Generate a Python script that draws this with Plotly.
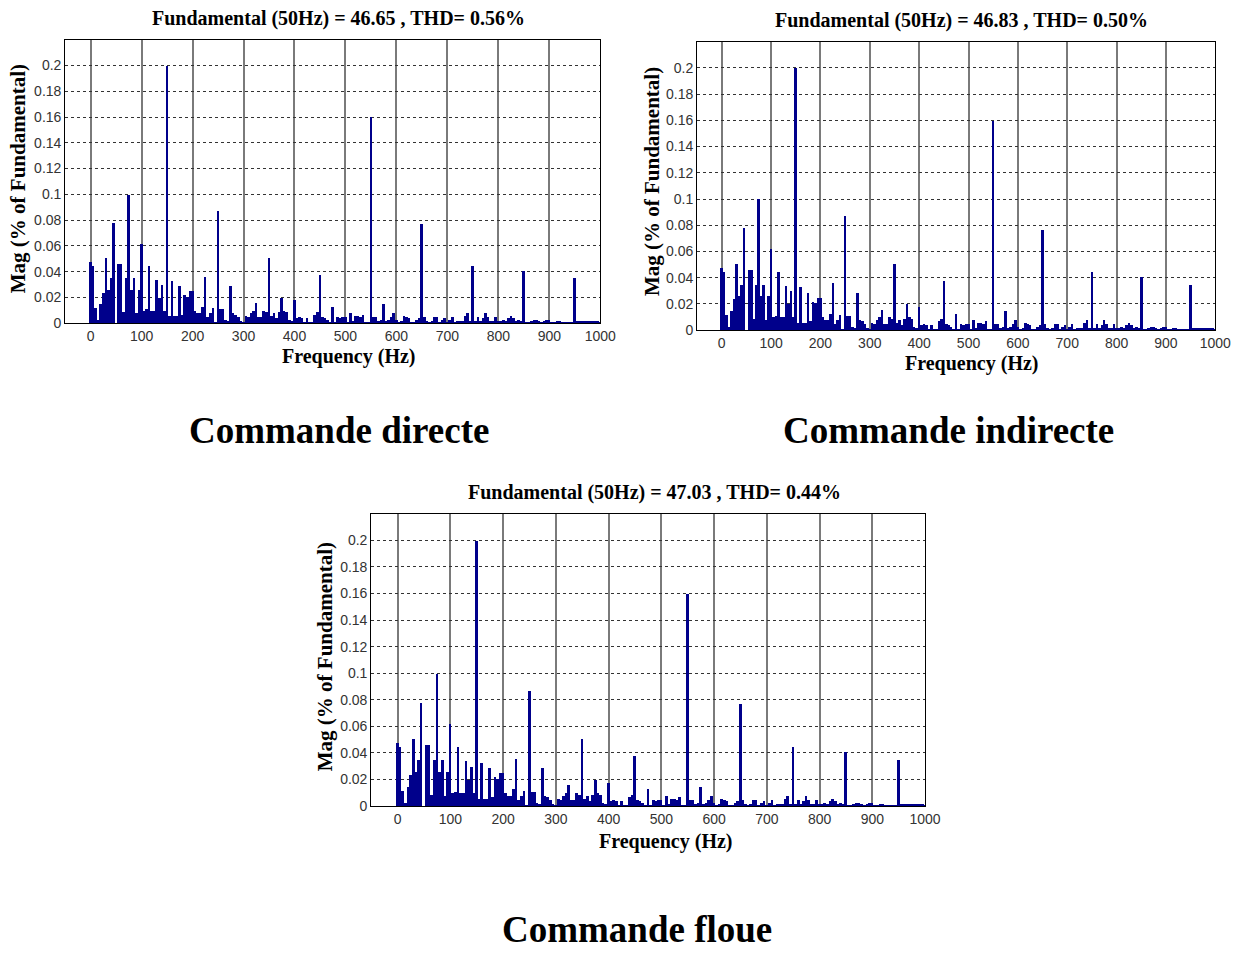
import plotly.graph_objects as go

# FFT spectrum of the stator current, 5 Hz bins from 0 to 1000 Hz
freq_hz = [5 * i for i in range(201)]
mag_pct = [
    0.048, 0.045, 0.012, 0.003, 0.015, 0.024, 0.051, 0.026, 0.035, 0.078,   # 0-45
    0.000, 0.046, 0.046, 0.009, 0.035, 0.100, 0.026, 0.035, 0.008, 0.026,   # 50-95
    0.062, 0.010, 0.011, 0.045, 0.010, 0.010, 0.034, 0.020, 0.030, 0.010,   # 100-145
    0.200, 0.006, 0.033, 0.006, 0.006, 0.029, 0.007, 0.022, 0.021, 0.025,   # 150-195
    0.025, 0.010, 0.008, 0.008, 0.013, 0.036, 0.005, 0.008, 0.012, 0.001,   # 200-245
    0.087, 0.011, 0.011, 0.003, 0.002, 0.029, 0.008, 0.007, 0.005, 0.002,   # 250-295
    0.001, 0.006, 0.005, 0.008, 0.010, 0.016, 0.005, 0.005, 0.010, 0.009,   # 300-345
    0.051, 0.006, 0.008, 0.004, 0.009, 0.020, 0.010, 0.009, 0.003, 0.002,   # 350-395
    0.018, 0.004, 0.005, 0.004, 0.001, 0.004, 0.001, 0.001, 0.007, 0.009,   # 400-445
    0.038, 0.005, 0.004, 0.003, 0.001, 0.013, 0.001, 0.005, 0.004, 0.005,   # 450-495
    0.005, 0.001, 0.008, 0.002, 0.006, 0.006, 0.005, 0.007, 0.001, 0.001,   # 500-545
    0.160, 0.005, 0.005, 0.002, 0.003, 0.015, 0.002, 0.003, 0.005, 0.008,   # 550-595
    0.003, 0.001, 0.002, 0.006, 0.005, 0.004, 0.001, 0.001, 0.003, 0.004,   # 600-645
    0.077, 0.005, 0.002, 0.001, 0.002, 0.005, 0.005, 0.001, 0.003, 0.004,   # 650-695
    0.001, 0.003, 0.005, 0.001, 0.002, 0.002, 0.002, 0.006, 0.008, 0.002,   # 700-745
    0.045, 0.002, 0.005, 0.002, 0.004, 0.008, 0.005, 0.002, 0.002, 0.005,   # 750-795
    0.002, 0.002, 0.003, 0.002, 0.004, 0.006, 0.004, 0.002, 0.003, 0.002,   # 800-845
    0.041, 0.001, 0.001, 0.002, 0.003, 0.003, 0.002, 0.001, 0.002, 0.003,   # 850-895
    0.003, 0.001, 0.001, 0.002, 0.002, 0.001, 0.001, 0.001, 0.001, 0.001,   # 900-945
    0.035, 0.002, 0.002, 0.002, 0.002, 0.002, 0.002, 0.002, 0.002, 0.002,   # 950-995
    0.001,                                                                  # 1000
]

control_names = ["Commande directe", "Commande indirecte", "Commande floue"]
fundamental = [46.65, 46.83, 47.03]
thd_pct = [0.56, 0.50, 0.44]

x_ticks = list(range(0, 1001, 100))
y_ticks = [0, 0.02, 0.04, 0.06, 0.08, 0.1, 0.12, 0.14, 0.16, 0.18, 0.2]
y_tick_text = ["0", "0.02", "0.04", "0.06", "0.08", "0.1", "0.12", "0.14", "0.16", "0.18", "0.2"]

W, H = 1257, 953

# pixel boxes of each plot area: (left, right, top, bottom)
boxes = [(66, 608, 40, 326), (706, 1231, 42, 333), (376, 937, 518, 813)]
# title / axis-title / caption anchors in pixels
title_pos = [(343, 19), (974, 21), (663, 497)]
xlabel_pos = [(354, 360), (985, 367), (675, 849)]
ylabel_pos = [(19, 180), (661, 183), (330, 662)]
caption_pos = [(343, 434), (961, 434), (645, 937)]

BAR_COLOR = "#00008B"
SERIF = "Liberation Serif"
SANS = "Liberation Sans"

fig = go.Figure()
annotations = []


def px_x(p):
    return p / W


def px_y(p):
    return 1 - p / H


for k in range(3):
    xa = "x" if k == 0 else f"x{k + 1}"
    ya = "y" if k == 0 else f"y{k + 1}"
    fig.add_trace(go.Bar(
        x=freq_hz, y=mag_pct, xaxis=xa, yaxis=ya,
        marker=dict(color=BAR_COLOR, line=dict(width=0)),
        showlegend=False,
    ))
    left, right, top, bottom = boxes[k]
    axis_common = dict(showline=True, linecolor="black", linewidth=1, mirror=True,
                       zeroline=False, ticks="", tickfont=dict(family=SANS, size=14, color="#333"))
    xkey = "xaxis" if k == 0 else f"xaxis{k + 1}"
    ykey = "yaxis" if k == 0 else f"yaxis{k + 1}"
    fig.update_layout(**{
        xkey: dict(domain=[px_x(left), px_x(right)], range=[-50, 1000], anchor=ya,
                   tickvals=x_ticks, showgrid=True, gridcolor="#7a7a7a", gridwidth=1.5,
                   **axis_common),
        ykey: dict(domain=[px_y(bottom), px_y(top)], range=[0, 0.22], anchor=xa,
                   tickvals=y_ticks, ticktext=y_tick_text, showgrid=True,
                   gridcolor="#333", gridwidth=1, griddash="dot",
                   **axis_common),
    })

    tx, ty = title_pos[k]
    annotations.append(dict(
        x=px_x(tx), y=px_y(ty), xref="paper", yref="paper", showarrow=False,
        xanchor="center", yanchor="middle",
        text=f"Fundamental (50Hz) = {fundamental[k]:.2f} , THD= {thd_pct[k]:.2f}%",
        font=dict(family=SERIF, size=20, color="black", weight="bold"),
    ))
    lx, ly = xlabel_pos[k]
    annotations.append(dict(
        x=px_x(lx), y=px_y(ly), xref="paper", yref="paper", showarrow=False,
        xanchor="center", yanchor="middle", text="Frequency (Hz)",
        font=dict(family=SERIF, size=20, color="black", weight="bold"),
    ))
    vx, vy = ylabel_pos[k]
    annotations.append(dict(
        x=px_x(vx), y=px_y(vy), xref="paper", yref="paper", showarrow=False,
        xanchor="center", yanchor="middle", textangle=-90,
        text="Mag (% of Fundamental)",
        font=dict(family=SERIF, size=21, color="black", weight="bold"),
    ))
    cx, cy = caption_pos[k]
    annotations.append(dict(
        x=px_x(cx), y=px_y(cy), xref="paper", yref="paper", showarrow=False,
        xanchor="center", yanchor="middle", text=control_names[k],
        font=dict(family=SERIF, size=37, color="black", weight="bold"),
    ))

fig.update_layout(
    width=W, height=H,
    margin=dict(l=0, r=0, t=0, b=0),
    paper_bgcolor="white", plot_bgcolor="white",
    bargap=0.0,
    annotations=annotations,
)

fig.write_html("out.html")
